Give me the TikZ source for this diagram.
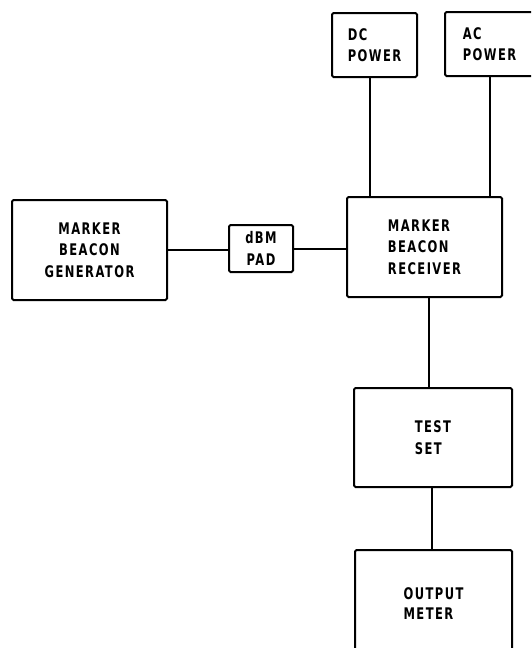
\documentclass[tikz,border=0pt]{standalone}
\usepackage{fontspec}
\newfontfamily\labfont[FakeStretch=0.72,LetterSpace=9]{DejaVu Sans}
\begin{document}
\begin{tikzpicture}[x=1pt,y=-1pt,
  blk/.style={draw, line width=2pt, rounded corners=1.5pt, inner sep=0pt,
    font=\labfont\bfseries\fontsize{16}{21.5}\selectfont},
  wire/.style={line width=2pt}]
\useasboundingbox (0,0) rectangle (531,648);
\clip (0,0) rectangle (531,648);
\node[blk, minimum width=85pt, minimum height=64pt, align=left] (dc) at (374.5,45) {DC\\POWER};
\node[blk, minimum width=89pt, minimum height=64pt, align=left] (ac) at (489.5,44) {AC\\POWER};
\node[blk, minimum width=155pt, minimum height=100pt, align=center] (gen) at (89.5,250) {MARKER\\BEACON\\GENERATOR};
\node[blk, minimum width=64pt, minimum height=47pt, align=center] (pad) at (261,248.5) {dBM\\PAD};
\node[blk, minimum width=155pt, minimum height=100pt, align=left] (rec) at (424.5,247) {MARKER\\BEACON\\RECEIVER};
\node[blk, minimum width=158pt, minimum height=99pt, align=left] (test) at (433,437.5) {TEST\\SET};
\node[blk, minimum width=157pt, minimum height=110pt] (out) at (433.5,605)
  {\raisebox{10pt}{\begin{tabular}{@{}l@{}}OUTPUT\\[-1.5pt]METER\end{tabular}}};
\draw[wire] ([xshift=-4.5pt]dc.south) -- ([xshift=-4.5pt]dc.south |- rec.north);
\draw[wire] (ac.south) -- (ac.south |- rec.north);
\draw[wire] (gen.east) -- (gen.east -| pad.west);
\draw[wire] (pad.east) -- (pad.east -| rec.west);
\draw[wire] ([xshift=4pt]rec.south) -- ([xshift=4pt]rec.south |- test.north);
\draw[wire] ([xshift=-1pt]test.south) -- ([xshift=-1pt]test.south |- out.north);
\end{tikzpicture}
\end{document}
